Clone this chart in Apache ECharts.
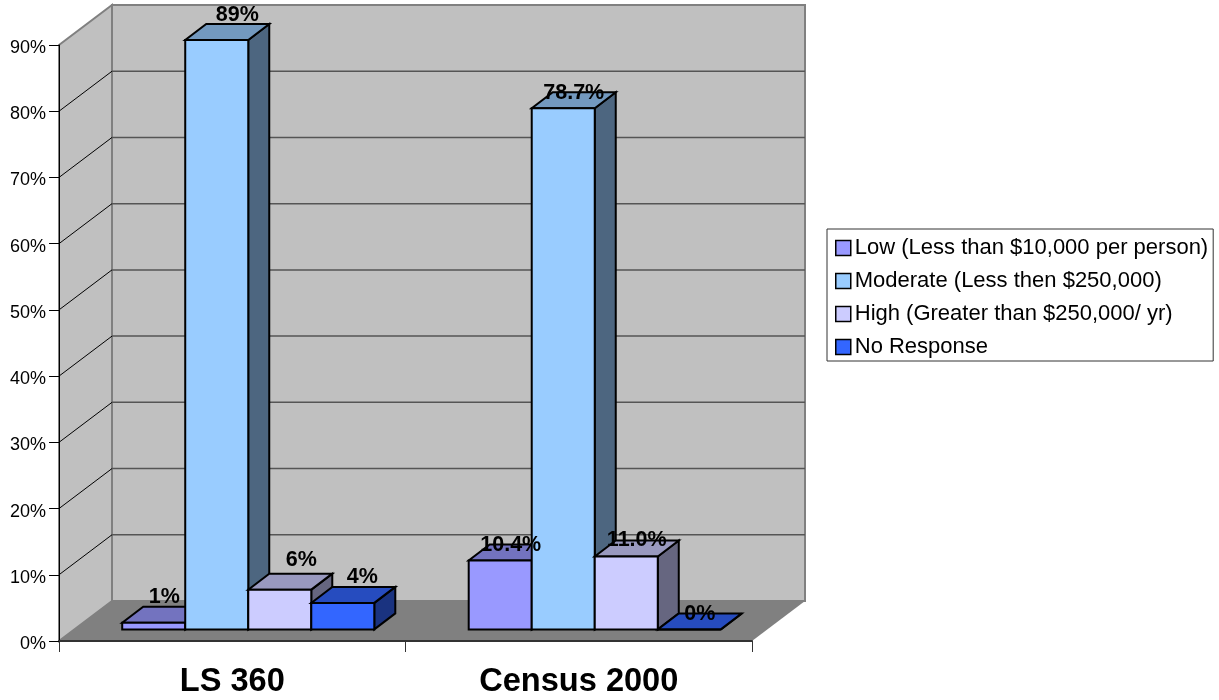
<!DOCTYPE html>
<html><head><meta charset="utf-8">
<style>html,body{margin:0;padding:0;background:#fff}#c{width:1219px;height:700px}</style>
<script src="https://cdn.jsdelivr.net/npm/echarts@6/dist/echarts.min.js"></script>
</head><body><div id="c"></div>
<script>
const categories = ['LS 360', 'Census 2000'];
const seriesNames = ['Low (Less than $10,000 per person)', 'Moderate (Less then $250,000)', 'High (Greater than $250,000/ yr)', 'No Response'];
const lowValues = [1, 10.4];
const moderateValues = [89, 78.7];
const highValues = [6, 11.0];
const noResponseValues = [4, 0];
const lowLabels = ['1%', '10.4%'];
const moderateLabels = ['89%', '78.7%'];
const highLabels = ['6%', '11.0%'];
const noResponseLabels = ['4%', '0%'];
const yTicks = [0, 10, 20, 30, 40, 50, 60, 70, 80, 90];

const allValues = [lowValues, moderateValues, highValues, noResponseValues];
const allLabels = [lowLabels, moderateLabels, highLabels, noResponseLabels];
const frontColors = ['#9999FF', '#99CCFF', '#CCCCFF', '#3366FF'];
const topColors = ['#7373BF', '#7399BF', '#9999BF', '#264CBF'];
const sideColors = ['#4D4D80', '#4D6680', '#666680', '#1A3380'];
// label offsets from the bar's rear top edge [dx, dy] per series, per category
const labelNudge = [
  [[0, 1], [0, 12]],
  [[10, 2], [0, 12]],
  [[11, -3], [0, 11]],
  [[9, 1], [0, 12]]
];
const WALL = [53, -40], BAR = [21, -16], INSET = [16, -11.6];
const BAR_FRACTION = 0.7275;
const FONT = '"Liberation Sans", Arial, sans-serif';

function poly(points, fill, stroke, lw) {
  return { type: 'polygon', shape: { points }, style: { fill, stroke: stroke || 'none', lineWidth: lw || 0, lineJoin: 'miter' } };
}
function line(x1, y1, x2, y2, stroke, lw) {
  return { type: 'line', shape: { x1, y1, x2, y2 }, style: { stroke, lineWidth: lw } };
}
function renderWalls(params, api) {
  const g = params.coordSys;
  const L = g.x, R = g.x + g.width, T = g.y, B = g.y + g.height;
  const dx = WALL[0], dy = WALL[1];
  const children = [
    poly([[L + dx, T + dy], [R + dx, T + dy], [R + dx, B + dy], [L + dx, B + dy]], '#C0C0C0', '#808080', 2),
    poly([[L, T], [L + dx, T + dy], [L + dx, B + dy], [L, B]], '#C0C0C0', '#808080', 2)
  ];
  yTicks.slice(1, -1).forEach(t => {
    const y = api.coord([0, t])[1];
    children.push(line(L + dx, y + dy, R + dx, y + dy, '#555555', 1.5));
    children.push(line(L, y, L + dx, y + dy, '#000000', 1));
  });
  children.push(poly([[L, B], [R, B], [R + dx, B + dy], [L + dx, B + dy]], '#808080', 'none', 0));
  return { type: 'group', children };
}
function barGeom(api, cat, val, s) {
  const w = api.size([1, 0])[0] * BAR_FRACTION / 4;
  const base = api.coord([cat, 0]);
  const top = api.coord([cat, val]);
  const x0 = base[0] - 2 * w + s * w + INSET[0];
  return { x0, x1: x0 + w, yb: base[1] + INSET[1], yt: top[1] + INSET[1] };
}
function makeBarRenderer(s) {
  return function (params, api) {
    const c = barGeom(api, api.value(0), api.value(1), s);
    const dx = BAR[0], dy = BAR[1], st = '#000', lw = 2;
    return { type: 'group', children: [
      poly([[c.x1, c.yb], [c.x1 + dx, c.yb + dy], [c.x1 + dx, c.yt + dy], [c.x1, c.yt]], sideColors[s], st, lw),
      poly([[c.x0, c.yt], [c.x1, c.yt], [c.x1 + dx, c.yt + dy], [c.x0 + dx, c.yt + dy]], topColors[s], st, lw),
      poly([[c.x0, c.yb], [c.x1, c.yb], [c.x1, c.yt], [c.x0, c.yt]], frontColors[s], st, lw)
    ] };
  };
}
function renderLabel(params, api) {
  const cat = api.value(0), s = api.value(2);
  const c = barGeom(api, cat, api.value(1), s);
  const n = labelNudge[s][cat];
  return { type: 'text', style: {
    text: allLabels[s][cat],
    x: (c.x0 + c.x1 + BAR[0]) / 2 + n[0],
    y: c.yt + BAR[1] + n[1],
    align: 'center', verticalAlign: 'bottom',
    fontFamily: FONT, fontSize: 21.5, fontWeight: 'bold', fill: '#000'
  } };
}
const labelRows = [];
allValues.forEach((vals, s) => vals.forEach((v, c) => labelRows.push([c, v, s])));

const series = [{
  type: 'custom', name: '_walls', z: 1, silent: true, clip: false,
  renderItem: renderWalls, data: [[0, 0]], encode: { x: 0, y: 1 }
}];
seriesNames.forEach((name, s) => series.push({
  type: 'custom', name, z: 4, clip: false,
  renderItem: makeBarRenderer(s),
  itemStyle: { color: frontColors[s] },
  data: allValues[s].map((v, c) => [c, v]),
  encode: { x: 0, y: 1 }
}));
series.push({
  type: 'custom', name: '_labels', z: 6, silent: true, clip: false,
  renderItem: renderLabel, data: labelRows, encode: { x: 0, y: 1 }
});

const chart = echarts.init(document.getElementById('c'), null, { renderer: 'canvas' });
chart.setOption({
  animation: false,
  backgroundColor: '#ffffff',
  textStyle: { fontFamily: FONT },
  grid: { left: 59, top: 45, width: 693, height: 596, containLabel: false },
  xAxis: {
    type: 'category', data: categories, z: 3,
    axisLine: { lineStyle: { color: '#333', width: 2 } },
    axisTick: { show: true, length: 11, alignWithLabel: false, lineStyle: { color: '#333', width: 1 } },
    axisLabel: { fontSize: 32.6, fontWeight: 'bold', color: '#000', margin: 25, fontFamily: FONT },
    splitLine: { show: false }
  },
  yAxis: {
    type: 'value', min: 0, max: 90, interval: 10, z: 3,
    axisLine: { show: true, lineStyle: { color: '#000', width: 1 } },
    axisTick: { show: true, length: 10, lineStyle: { color: '#000', width: 1 } },
    axisLabel: { fontSize: 18, color: '#000', margin: 13, formatter: '{value}%', fontFamily: FONT, verticalAlign: 'top', padding: [-6, 0, 0, 0] },
    splitLine: { show: false }
  },
  legend: {
    data: seriesNames, orient: 'vertical', left: 827, top: 229,
    padding: [8, 5, 3, 8], itemGap: 11, itemWidth: 15, itemHeight: 15,
    backgroundColor: '#fff', borderColor: '#333', borderWidth: 1,
    icon: 'rect', selectedMode: false,
    itemStyle: { borderColor: '#000', borderWidth: 1.5 },
    textStyle: { fontSize: 22, color: '#000', fontFamily: FONT, padding: [0, 0, 0, -1] }
  },
  series
});
</script></body></html>
